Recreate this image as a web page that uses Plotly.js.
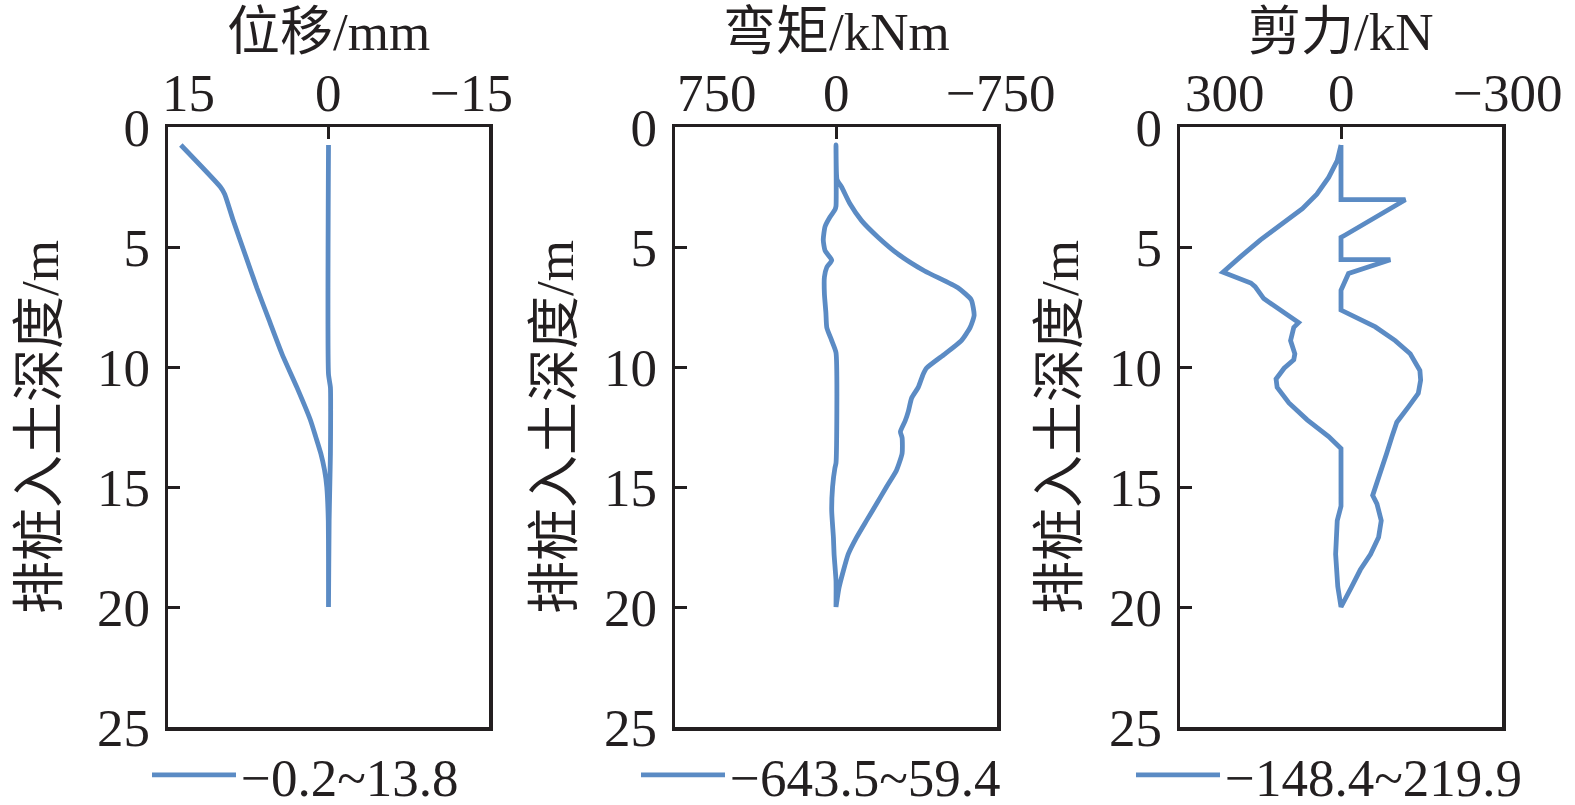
<!DOCTYPE html>
<html>
<head>
<meta charset="utf-8">
<script src="https://cdn.plot.ly/plotly-3.0.1.min.js"></script>
<style>
  html, body { margin: 0; padding: 0; background: #fff; overflow: hidden; }
  #wrap { width: 1575px; height: 805px; overflow: hidden; }
</style>
</head>
<body>
<div id="wrap"><div id="chart"></div></div>
<script>
// 位移 (mm): max / min envelopes along the pile
const dispMaxDepth = [0.75, 2.5, 2.8, 3.9, 5.3, 6.7, 8.05, 9.45, 10.85, 12.2, 12.9, 13.6, 14.3, 15.0, 16.4, 18.0, 20];
const dispMax = [13.8, 10.1, 9.7, 8.9, 7.8, 6.7, 5.55, 4.35, 2.95, 1.7, 1.2, 0.72, 0.37, 0.16, 0.02, 0, 0];
const dispMinDepth = [0.75, 10.3, 10.85, 12.0, 13.6, 15.0, 16.4, 20];
const dispMin = [0, 0, -0.18, -0.2, -0.18, -0.12, -0.06, 0];

// 弯矩 (kNm)
const momMaxDepth = [0.75, 3.3, 3.45, 3.75, 4.15, 4.7, 5.15, 5.55, 5.85, 6.25, 6.95, 7.75, 8.35, 8.9, 9.4, 14.0, 14.2, 15.0, 16.0, 17.1, 17.8, 18.9, 20];
const momMax = [0, 0, 5, 28, 51, 59.4, 51, 20, 43, 54, 54, 47, 43, 20, 0, 0, 5, 16, 20, 12, 9, 0, 0];
const momMinDepth = [0.75, 2.2, 2.5, 3.2, 3.9, 4.6, 5.3, 6.0, 6.7, 7.2, 7.85, 8.35, 8.9, 9.45, 10.05, 10.3, 10.85, 11.3, 11.85, 12.25, 12.7, 12.95, 13.6, 14.3, 15.0, 15.7, 16.4, 17.1, 17.8, 18.5, 19.2, 20];
const momMin = [0, -5, -26, -65, -119, -197, -290, -413, -568, -630, -643.5, -625, -584, -508, -421, -406, -383, -352, -337, -322, -300, -308, -308, -282, -235, -189, -142, -96, -57, -34, -14, 0];

// 剪力 (kN)
const shearMaxDepth = [0.75, 1.4, 2.1, 2.8, 3.4, 4.05, 4.7, 5.4, 6.05, 6.5, 6.65, 7.15, 7.7, 8.15, 8.35, 8.9, 9.45, 9.7, 10.05, 10.5, 10.85, 11.5, 12.2, 12.9, 13.4, 15.8, 16.4, 17.8, 19.15, 20];
const shearMax = [0, 7, 23, 45, 72, 110, 150, 187, 219.9, 168, 160, 144, 110, 79, 88, 94, 86, 88, 106, 121, 119, 97, 63, 23, 0, 0, 7, 10, 6, 0];
const shearMinDepth = [0.75, 3.03, 3.03, 4.5, 4.6, 5.53, 5.53, 6.1, 6.5, 6.8, 7.63, 7.7, 7.9, 8.33, 8.9, 9.45, 10.15, 10.55, 11.1, 11.65, 12.3, 12.9, 13.6, 14.3, 14.85, 15.35, 15.7, 16.4, 17.1, 17.8, 18.45, 19.15, 20];
const shearMin = [0, 0, -120, -8, 0, 0, -92, -14, -5, 0, 0, -8, -27, -64, -101, -129, -147, -148.4, -144, -126, -104, -95, -85, -76, -67, -59, -67, -75, -70, -55, -36, -20, 0];

const titles = ["位移/mm", "弯矩/kNm", "剪力/kN"];
const limits = [15, 750, 300];
const limitLabels = [["15", "0", "−15"], ["750", "0", "−750"], ["300", "0", "−300"]];
const legendNames = ["−0.2~13.8", "−643.5~59.4", "−148.4~219.9"];
const depthTicks = [0, 5, 10, 15, 20, 25];

const blue = "#5b8bc4";
const ink = "#231f20";
const font = "Liberation Serif, Times New Roman, Noto Sans CJK SC, serif";
const fs = 53;

const W = 1575;
// figure is drawn a bit taller than the 805px window so the bottom legends
// never push the margins; the wrapper clips the extra space
const H = 840;
const boxes = [[168, 489], [675, 997], [1180, 1502]];
const labelShift = [[-8, -18], [0, 3], [3, 5]];
const ytitleShift = [-128, -120, -120];
const legendX = [147, 636, 1131];
const lineShapes = ["spline", "spline", "linear"];

// go down the max envelope and back up the min envelope
function loop(maxDepth, maxVals, minDepth, minVals) {
  return {
    x: maxVals.concat(minVals.slice().reverse()),
    y: maxDepth.concat(minDepth.slice().reverse()),
  };
}

const paths = [
  loop(dispMaxDepth, dispMax, dispMinDepth, dispMin),
  loop(momMaxDepth, momMax, momMinDepth, momMin),
  loop(shearMaxDepth, shearMax, shearMinDepth, shearMin),
];

const traces = paths.map((p, i) => ({
  x: p.x,
  y: p.y,
  xaxis: i === 0 ? "x" : "x" + (i + 1),
  yaxis: i === 0 ? "y" : "y" + (i + 1),
  type: "scatter",
  mode: "lines",
  name: legendNames[i],
  legend: i === 0 ? "legend" : "legend" + (i + 1),
  showlegend: true,
  line: { color: blue, width: 4.8, shape: lineShapes[i], smoothing: 0.5 },
  hoverinfo: "skip",
}));

const layout = {
  width: W,
  height: H,
  showlegend: true,
  margin: { l: 0, r: 0, t: 127, b: H - 727 },
  paper_bgcolor: "#fff",
  plot_bgcolor: "#fff",
  font: { family: font, size: fs, color: ink },
  annotations: [],
};

limits.forEach((lim, i) => {
  const s = i === 0 ? "" : String(i + 1);
  layout["xaxis" + s] = {
    domain: [boxes[i][0] / W, boxes[i][1] / W],
    anchor: "y" + s,
    range: [lim, -lim],
    side: "top",
    tickvals: [lim, 0, -lim],
    ticks: "inside",
    ticklen: 12,
    tickwidth: 3,
    tickcolor: ink,
    showticklabels: false,
    showgrid: false,
    zeroline: false,
    showline: true,
    mirror: true,
    linewidth: 3.5,
    linecolor: ink,
    fixedrange: true,
  };
  layout["yaxis" + s] = {
    anchor: "x" + s,
    range: [25, 0],
    tickvals: depthTicks,
    ticks: "inside",
    ticklen: 12,
    tickwidth: 3,
    tickcolor: ink,
    ticklabelstandoff: 4,
    tickfont: { family: font, size: fs, color: ink },
    showgrid: false,
    zeroline: false,
    showline: true,
    mirror: true,
    linewidth: 3.5,
    linecolor: ink,
    fixedrange: true,
  };

  const xr = "x" + s;
  const vals = [lim, 0, -lim];
  const anchors = ["left", "center", "center"];
  const shifts = [labelShift[i][0], 0, labelShift[i][1]];
  vals.forEach((v, k) => {
    layout.annotations.push({
      xref: xr, yref: "paper", x: v, y: 1,
      xanchor: anchors[k], yanchor: "bottom",
      xshift: shifts[k], yshift: 3,
      text: limitLabels[i][k], showarrow: false,
      font: { family: font, size: fs, color: ink },
    });
  });

  layout.annotations.push({
    xref: xr + " domain", yref: "paper", x: 0.5, y: 1,
    xanchor: "center", yanchor: "bottom", yshift: 64,
    text: titles[i], showarrow: false,
    font: { family: font, size: fs, color: ink },
  });

  layout.annotations.push({
    xref: xr + " domain", yref: "paper", x: 0, y: 0.5,
    xanchor: "center", yanchor: "middle", xshift: ytitleShift[i],
    textangle: -90,
    text: "排桩入土深度/m", showarrow: false,
    font: { family: font, size: fs, color: ink },
  });

  layout[i === 0 ? "legend" : "legend" + (i + 1)] = {
    visible: true,
    x: legendX[i] / W, xanchor: "left",
    y: -0.08, yanchor: "middle",
    bgcolor: "rgba(0,0,0,0)",
    borderwidth: 0,
    itemwidth: 84,
    font: { family: font, size: fs, color: ink },
  };
});

Plotly.newPlot("chart", traces, layout, { displayModeBar: false, staticPlot: true });
</script>
</body>
</html>
